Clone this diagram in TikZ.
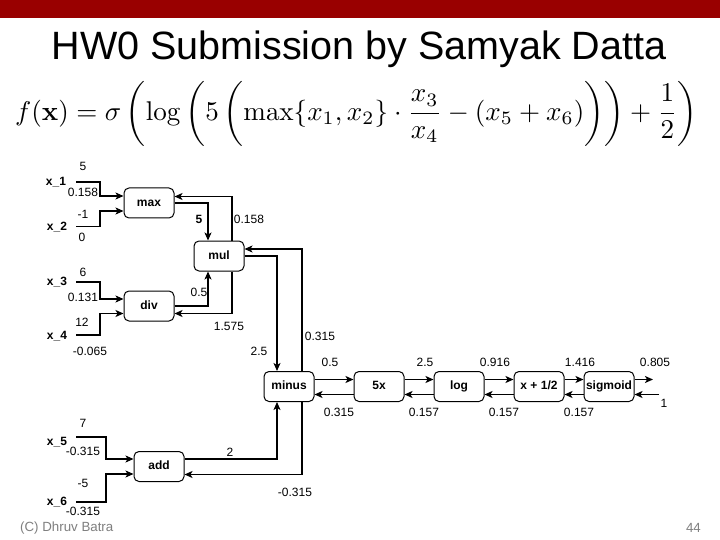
\documentclass[tikz,border=0pt]{standalone}
\usepackage[no-math]{fontspec}
\setmainfont{Liberation Sans}
\usetikzlibrary{arrows.meta}
\definecolor{barred}{HTML}{990000}
\definecolor{footgray}{HTML}{7F7F7F}
\tikzset{
  lbl/.style={font=\fontsize{12}{14}\selectfont, inner sep=0pt, text height=8.6pt, text depth=0pt},
  xin/.style={font=\fontsize{12}{14}\selectfont\bfseries, inner sep=0pt},
  box/.style={draw, line width=1pt, rounded corners=5pt, minimum width=50pt, minimum height=30pt, inner sep=0pt, text height=8.8pt, text depth=2.6pt, font=\fontsize{12}{14}\selectfont\bfseries},
  arr/.style={line width=1.2pt, -{Stealth[length=8pt,width=7pt,inset=2pt]}},
  ln/.style={line width=1.2pt}
}
\begin{document}
\begin{tikzpicture}[x=1pt,y=-1pt]
\useasboundingbox (0,0) rectangle (720,540);
\fill[white] (0,0) rectangle (720,540);
\fill[barred] (0,0) rectangle (720,18);
\node[anchor=base, inner sep=0pt, font=\fontsize{39.5}{44}\selectfont] (title) at (359,60) {HW0 Submission by Samyak Datta};
\node[anchor=west, inner sep=0pt] (formula) at (15,113.5) {\resizebox{682pt}{!}{$\displaystyle f(\mathbf{x}) = \sigma\left(\log\left(5\left(\max\{x_1,x_2\}\cdot\frac{x_3}{x_4} - (x_5+x_6)\right)\right) + \frac{1}{2}\right)$}};

% boxes
\node[box] (max) at (149,203) {max};
\node[box] (mul) at (219,256) {mul};
\node[box] (div) at (149,306) {div};
\node[box] (minus) at (289,386.5) {minus};
\node[box] (fivex) at (379,386.5) {5x};
\node[box] (log) at (459,386.5) {log};
\node[box] (half) at (539,386.5) {x + 1/2};
\node[box] (sig) at (609,386.5) {sigmoid};
\node[box] (add) at (159,466.5) {add};

% input names
\node[xin] (n1) at (56,182) {x\_1};
\node[xin] (n2) at (57,227) {x\_2};
\node[xin] (n3) at (57,282) {x\_3};
\node[xin] (n4) at (57,336) {x\_4};
\node[xin] (n5) at (57,442) {x\_5};
\node[xin] (n6) at (57,502) {x\_6};

% input line starts
\coordinate (c1) at (76,182);
\coordinate (c2) at (76,226.5);
\coordinate (c3) at (76,282);
\coordinate (c4) at (76,335);
\coordinate (c5) at (76,437);
\coordinate (c6) at (76,502);
\coordinate (outp) at (653,379.5);
\coordinate (inp) at (659,394.5);

% input connectors
\draw[arr] (c1) -- (100,182) |- ([yshift=7pt]max.west);
\draw[arr] (c2) -- (100,226.5) |- ([yshift=-8pt]max.west);
\draw[arr] (c3) -- (100,282) |- ([yshift=7pt]div.west);
\draw[arr] (c4) -- (100,335) |- ([yshift=-7.5pt]div.west);
\draw[arr] (c5) -- (106,437) |- ([yshift=7.5pt]add.west);
\draw[arr] (c6) -- (106,502) |- ([yshift=-7.5pt]add.west);

% max / div / mul
\draw[arr] (max.east) -| ([xshift=-11pt]mul.north);
\draw[arr] ([xshift=13pt]mul.north) |- ([yshift=6.5pt]max.east);
\draw[arr] (div.east) -| ([xshift=-11pt]mul.south);
\draw[arr] ([xshift=13pt]mul.south) |- ([yshift=-7.5pt]div.east);
% mul / minus
\draw[arr] (mul.east) -| ([xshift=-12pt]minus.north);
\draw[arr] ([xshift=13pt]minus.north) |- ([yshift=7pt]mul.east);
% add / minus
\draw[arr] ([yshift=7.5pt]add.east) -| ([xshift=-12pt]minus.south);
\draw[arr] ([xshift=13pt]minus.south) |- ([yshift=-8pt]add.east);

% chain
\draw[arr] ([yshift=7pt]minus.east) -- ([yshift=7pt]fivex.west);
\draw[arr] ([yshift=-8pt]fivex.west) -- ([yshift=-8pt]minus.east);
\draw[arr] ([yshift=7pt]fivex.east) -- ([yshift=7pt]log.west);
\draw[arr] ([yshift=-8pt]log.west) -- ([yshift=-8pt]fivex.east);
\draw[arr] ([yshift=7pt]log.east) -- ([yshift=7pt]half.west);
\draw[arr] ([yshift=-8pt]half.west) -- ([yshift=-8pt]log.east);
\draw[arr] ([yshift=7pt]half.east) -- ([yshift=7pt]sig.west);
\draw[arr] ([yshift=-8pt]sig.west) -- ([yshift=-8pt]half.east);
\draw[arr] ([yshift=7pt]sig.east) -- (outp);
\draw[arr] (inp) -- ([yshift=-8pt]sig.east);

% value labels
\node[lbl] (v1) at (83,166) {5};
\node[lbl] (g1) at (83,192) {0.158};
\node[lbl] (v2) at (83,214) {-1};
\node[lbl] (g2) at (82,237) {0};
\node[lbl] (v3) at (83,272) {6};
\node[lbl] (g3) at (83,297) {0.131};
\node[lbl] (v4) at (82,322) {12};
\node[lbl] (g4) at (90,351) {-0.065};
\node[lbl] (v5) at (83,423) {7};
\node[lbl] (g5) at (83,451) {-0.315};
\node[lbl] (v6) at (83,483) {-5};
\node[lbl] (g6) at (83,511) {-0.315};
\node[xin] (vmax) at (199,219) {5};
\node[lbl] (gmax) at (249,219) {0.158};
\node[lbl] (vdiv) at (199,292) {0.5};
\node[lbl] (gdiv) at (229,326) {1.575};
\node[lbl] (vmul) at (259,351) {2.5};
\node[lbl] (gmul) at (320,336) {0.315};
\node[lbl] (vadd) at (230,452) {2};
\node[lbl] (gadd) at (295,492) {-0.315};
\node[lbl] (vmin) at (330,362) {0.5};
\node[lbl] (v5x) at (425,362) {2.5};
\node[lbl] (vlog) at (495,362) {0.916};
\node[lbl] (vhalf) at (580,362) {1.416};
\node[lbl] (vsig) at (655,362) {0.805};
\node[lbl] (gmin) at (339,412) {0.315};
\node[lbl] (g5x) at (424,412) {0.157};
\node[lbl] (glog) at (504,412) {0.157};
\node[lbl] (ghalf) at (579,412) {0.157};
\node[lbl] (gout) at (664,403) {1};

% footer
\node[anchor=west, inner sep=0pt, text=footgray, font=\fontsize{13.3}{15}\selectfont] (credit) at (20,528) {(C) Dhruv Batra};
\node[anchor=east, inner sep=0pt, text=footgray, font=\fontsize{13.3}{15}\selectfont] (page) at (701,528) {44};
\end{tikzpicture}
\end{document}
